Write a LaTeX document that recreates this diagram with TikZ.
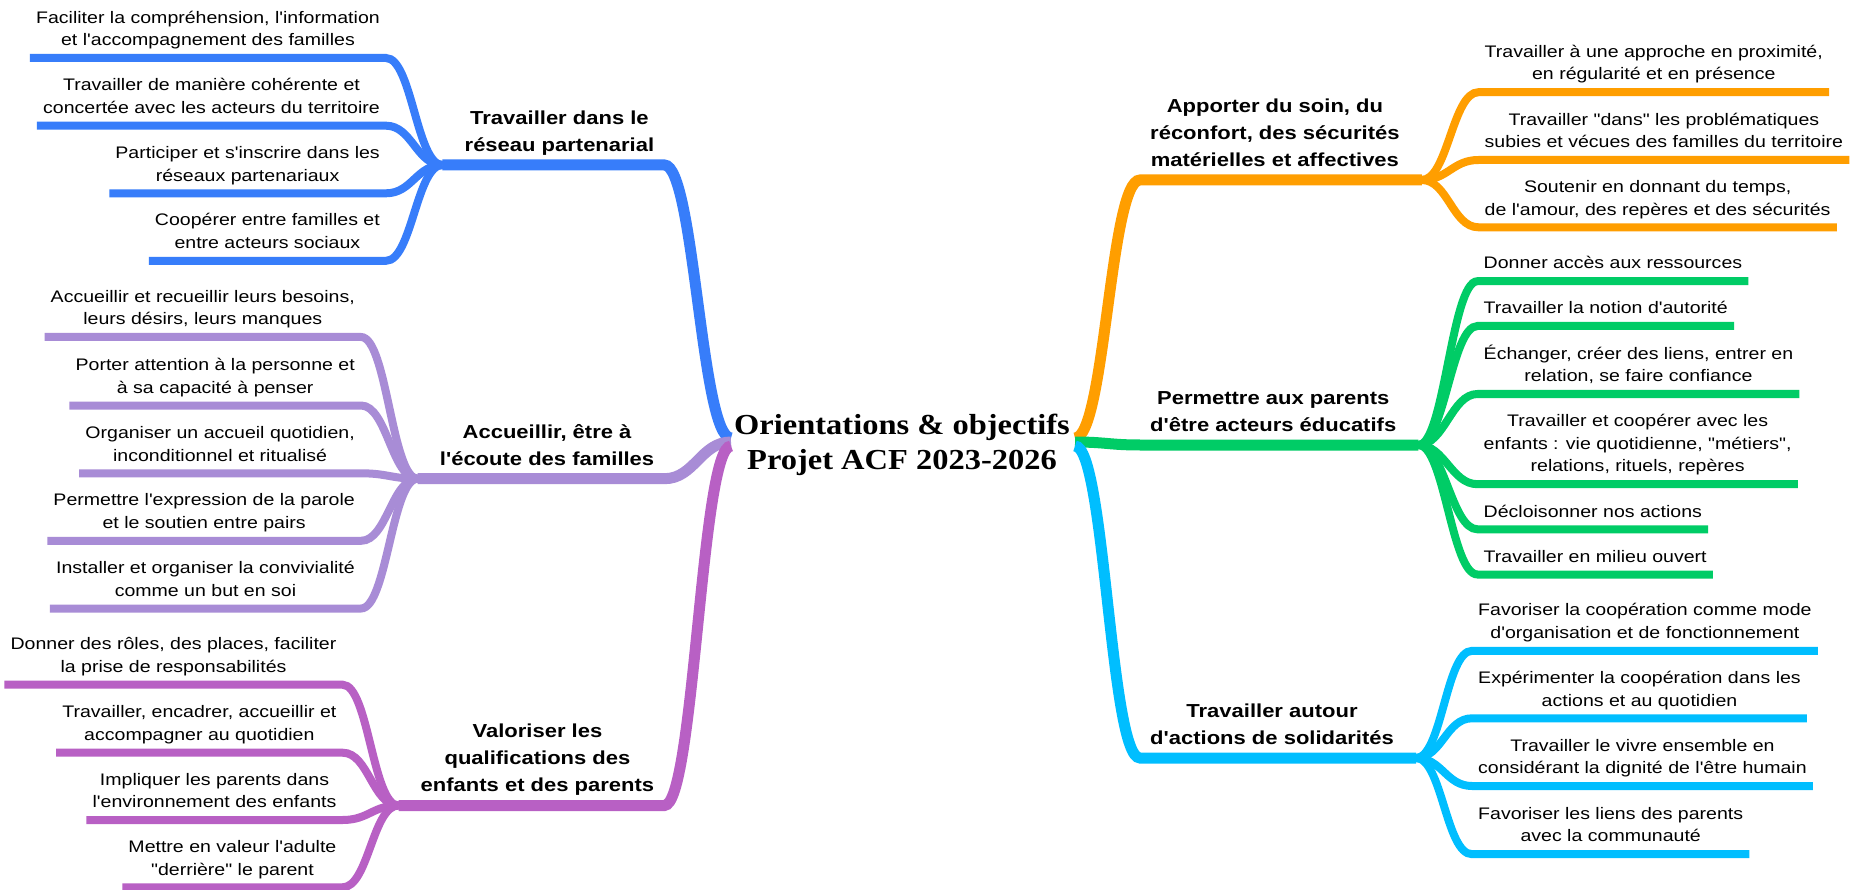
\documentclass[tikz,border=0pt]{standalone}
\usepackage{fontspec}
\setmainfont{Liberation Sans}[FakeStretch=1.17,Ligatures=TeXOff]
\newfontfamily\titlefam{Liberation Serif}[FakeStretch=1.12,Ligatures=TeXOff]
\definecolor{mapblue}{RGB}{55,125,250}
\definecolor{maplilac}{RGB}{168,140,214}
\definecolor{mapmagenta}{RGB}{184,96,196}
\definecolor{maporange}{RGB}{255,158,0}
\definecolor{mapgreen}{RGB}{0,204,102}
\definecolor{mapcyan}{RGB}{0,190,255}
\newcommand{\leaffont}{\fontsize{16.7}{22.7}\selectfont}
\newcommand{\topicfont}{\bfseries\fontsize{18.8}{27}\selectfont}
\newcommand{\titlefont}{\titlefam\bfseries\fontsize{29}{35}\selectfont}

\begin{document}
\begin{tikzpicture}[x=1pt,y=-1pt]
\tikzstyle{leaf}=[align=center,inner xsep=6pt,inner ysep=5.2pt,font=\leaffont,execute at end node=\strut]
\tikzstyle{topic}=[align=center,inner xsep=10pt,inner ysep=5.4pt,font=\topicfont,execute at end node=\strut]
\tikzstyle{twig}=[line width=8pt]
\tikzstyle{limb}=[line width=11pt]
\fill [white] (0,0) rectangle (1863,890);
\useasboundingbox (0,0) rectangle (1863,890);
% centre
\node [font=\titlefont,align=center,inner sep=0pt,anchor=south,execute at end node=\strut] (ttl) at (902,480.5) {Orientations \& objectifs\\Projet ACF 2023-2026};
\coordinate (hubL) at (731,442);
\coordinate (hubR) at (1075,442);
% topics
\node [topic,anchor=south east] (tA) at (664.4,165) {Travailler dans le\\réseau partenarial};
\node [topic,anchor=south east] (tB) at (664.4,478.7) {Accueillir, être à\\l'écoute des familles};
\node [topic,anchor=south east] (tC) at (664.4,805.5) {Valoriser les\\qualifications des\\enfants et des parents};
\node [topic,anchor=south west] (tD) at (1140,180) {Apporter du soin, du\\réconfort, des sécurités\\matérielles et affectives};
\node [topic,anchor=south west] (tE) at (1140,445) {Permettre aux parents\\d'être acteurs éducatifs};
\node [topic,anchor=south west] (tF) at (1140,758) {Travailler autour\\d'actions de solidarités};
\coordinate (jA) at ([xshift=-12pt]tA.south west);
\coordinate (jB) at ([xshift=-12pt]tB.south west);
\coordinate (jC) at ([xshift=-12pt]tC.south west);
\coordinate (jD) at ([xshift=12pt]tD.south east);
\coordinate (jE) at ([xshift=12pt]tE.south east);
\coordinate (jF) at ([xshift=12pt]tF.south east);
% leaves, left
\node [leaf,anchor=south east] (a1) at (386,58) {Faciliter la compréhension, l'information\\et l'accompagnement des familles};
\node [leaf,anchor=south east] (a2) at (386,125.7) {Travailler de manière cohérente et\\concertée avec les acteurs du territoire};
\node [leaf,anchor=south east] (a3) at (386,193.3) {Participer et s'inscrire dans les\\réseaux partenariaux};
\node [leaf,anchor=south east] (a4) at (386,260.8) {Coopérer entre familles et\\entre acteurs sociaux};
\node [leaf,anchor=south east] (b1) at (361,337) {Accueillir et recueillir leurs besoins,\\leurs désirs, leurs manques};
\node [leaf,anchor=south east] (b2) at (361,405.5) {Porter attention à la personne et\\à sa capacité à penser};
\node [leaf,anchor=south east] (b3) at (361,473.3) {Organiser un accueil quotidien,\\inconditionnel et ritualisé};
\node [leaf,anchor=south east] (b4) at (361,540.8) {Permettre l'expression de la parole\\et le soutien entre pairs};
\node [leaf,anchor=south east] (b5) at (361,608.5) {Installer et organiser la convivialité\\comme un but en soi};
\node [leaf,anchor=south east] (c1) at (342.6,684.7) {Donner des rôles, des places, faciliter\\la prise de responsabilités};
\node [leaf,anchor=south east] (c2) at (342.6,752.7) {Travailler, encadrer, accueillir et\\accompagner au quotidien};
\node [leaf,anchor=south east] (c3) at (342.6,820) {Impliquer les parents dans\\l'environnement des enfants};
\node [leaf,anchor=south east] (c4) at (342.6,887.3) {Mettre en valeur l'adulte\\"derrière" le parent};
% leaves, right
\node [leaf,anchor=south west] (d1) at (1478.5,92.2) {Travailler à une approche en proximité,\\en régularité et en présence};
\node [leaf,anchor=south west] (d2) at (1478.5,160) {Travailler "dans" les problématiques\\subies et vécues des familles du territoire};
\node [leaf,anchor=south west] (d3) at (1478.5,227.3) {Soutenir en donnant du temps,\\de l'amour, des repères et des sécurités};
\node [leaf,anchor=south west] (e1) at (1477.5,281.2) {Donner accès aux ressources};
\node [leaf,anchor=south west] (e2) at (1477.5,326) {Travailler la notion d'autorité};
\node [leaf,anchor=south west] (e3) at (1477.5,394) {Échanger, créer des liens, entrer en\\relation, se faire confiance};
\node [leaf,anchor=south west] (e4) at (1477.5,484.2) {Travailler et coopérer avec les\\enfants : vie quotidienne, "métiers",\\relations, rituels, repères};
\node [leaf,anchor=south west] (e5) at (1477.5,529.3) {Décloisonner nos actions};
\node [leaf,anchor=south west] (e6) at (1477.5,574.5) {Travailler en milieu ouvert};
\node [leaf,anchor=south west] (f1) at (1472,650.8) {Favoriser la coopération comme mode\\d'organisation et de fonctionnement};
\node [leaf,anchor=south west] (f2) at (1472,718.3) {Expérimenter la coopération dans les\\actions et au quotidien};
\node [leaf,anchor=south west] (f3) at (1472,786) {Travailler le vivre ensemble en\\considérant la dignité de l'être humain};
\node [leaf,anchor=south west] (f4) at (1472,854.2) {Favoriser les liens des parents\\avec la communauté};
% main branches
\draw [limb,mapblue] ([yshift=4pt]hubL) .. controls +(-30,0) and +(30,0) .. (tA.south east) -- (jA);
\draw [limb,maplilac] (hubL) .. controls +(-30,0) and +(30,0) .. (tB.south east) -- (jB);
\draw [limb,mapmagenta] ([yshift=-4pt]hubL) .. controls +(-30,0) and +(30,0) .. (tC.south east) -- (jC);
\draw [limb,maporange] ([yshift=4pt]hubR) .. controls +(30,0) and +(-30,0) .. (tD.south west) -- (jD);
\draw [limb,mapgreen] (hubR) .. controls +(30,0) and +(-30,0) .. (tE.south west) -- (jE);
\draw [limb,mapcyan] ([yshift=-4pt]hubR) .. controls +(30,0) and +(-30,0) .. (tF.south west) -- (jF);
% twigs
\draw [twig,mapblue] (jA) .. controls +(-26,0) and +(26,0) .. (a1.south east) -- (a1.south west);
\draw [twig,mapblue] (jA) .. controls +(-26,0) and +(26,0) .. (a2.south east) -- (a2.south west);
\draw [twig,mapblue] (jA) .. controls +(-26,0) and +(26,0) .. (a3.south east) -- (a3.south west);
\draw [twig,mapblue] (jA) .. controls +(-26,0) and +(26,0) .. (a4.south east) -- (a4.south west);
\draw [twig,maplilac] (jB) .. controls +(-26,0) and +(26,0) .. (b1.south east) -- (b1.south west);
\draw [twig,maplilac] (jB) .. controls +(-26,0) and +(26,0) .. (b2.south east) -- (b2.south west);
\draw [twig,maplilac] (jB) .. controls +(-26,0) and +(26,0) .. (b3.south east) -- (b3.south west);
\draw [twig,maplilac] (jB) .. controls +(-26,0) and +(26,0) .. (b4.south east) -- (b4.south west);
\draw [twig,maplilac] (jB) .. controls +(-26,0) and +(26,0) .. (b5.south east) -- (b5.south west);
\draw [twig,mapmagenta] (jC) .. controls +(-26,0) and +(26,0) .. (c1.south east) -- (c1.south west);
\draw [twig,mapmagenta] (jC) .. controls +(-26,0) and +(26,0) .. (c2.south east) -- (c2.south west);
\draw [twig,mapmagenta] (jC) .. controls +(-26,0) and +(26,0) .. (c3.south east) -- (c3.south west);
\draw [twig,mapmagenta] (jC) .. controls +(-26,0) and +(26,0) .. (c4.south east) -- (c4.south west);
\draw [twig,maporange] (jD) .. controls +(26,0) and +(-26,0) .. (d1.south west) -- (d1.south east);
\draw [twig,maporange] (jD) .. controls +(26,0) and +(-26,0) .. (d2.south west) -- (d2.south east);
\draw [twig,maporange] (jD) .. controls +(26,0) and +(-26,0) .. (d3.south west) -- (d3.south east);
\draw [twig,mapgreen] (jE) .. controls +(26,0) and +(-26,0) .. (e1.south west) -- (e1.south east);
\draw [twig,mapgreen] (jE) .. controls +(26,0) and +(-26,0) .. (e2.south west) -- (e2.south east);
\draw [twig,mapgreen] (jE) .. controls +(26,0) and +(-26,0) .. (e3.south west) -- (e3.south east);
\draw [twig,mapgreen] (jE) .. controls +(26,0) and +(-26,0) .. (e4.south west) -- (e4.south east);
\draw [twig,mapgreen] (jE) .. controls +(26,0) and +(-26,0) .. (e5.south west) -- (e5.south east);
\draw [twig,mapgreen] (jE) .. controls +(26,0) and +(-26,0) .. (e6.south west) -- (e6.south east);
\draw [twig,mapcyan] (jF) .. controls +(26,0) and +(-26,0) .. (f1.south west) -- (f1.south east);
\draw [twig,mapcyan] (jF) .. controls +(26,0) and +(-26,0) .. (f2.south west) -- (f2.south east);
\draw [twig,mapcyan] (jF) .. controls +(26,0) and +(-26,0) .. (f3.south west) -- (f3.south east);
\draw [twig,mapcyan] (jF) .. controls +(26,0) and +(-26,0) .. (f4.south west) -- (f4.south east);
\end{tikzpicture}
\end{document}
